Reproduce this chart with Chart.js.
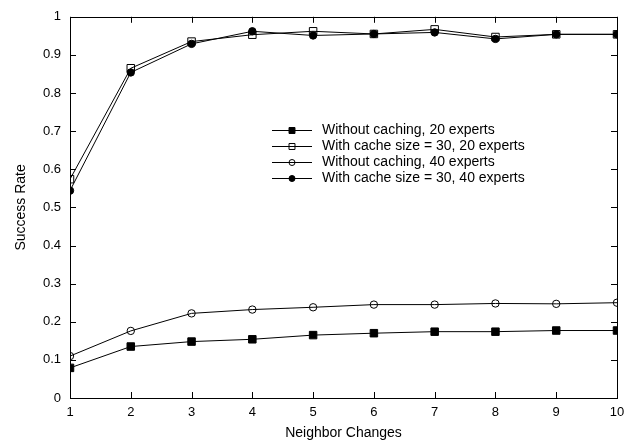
<!DOCTYPE html>
<html>
<head>
<meta charset="utf-8">
<script src="https://cdn.jsdelivr.net/npm/chart.js@4/dist/chart.umd.min.js"></script>
<style>
  html, body { margin: 0; padding: 0; background: #fff; }
  canvas { display: block; }
</style>
</head>
<body>
<canvas id="chart" width="639" height="446"></canvas>
<script>
// Neighbor changes on the x axis
const neighborChanges = [1, 2, 3, 4, 5, 6, 7, 8, 9, 10];

// Success rate per series
const noCache20 = [0.079, 0.135, 0.148, 0.154, 0.165, 0.170, 0.174, 0.174, 0.177, 0.177];
const cache30_20 = [0.574, 0.865, 0.935, 0.953, 0.962, 0.955, 0.967, 0.947, 0.954, 0.954];
const noCache40 = [0.110, 0.176, 0.222, 0.232, 0.238, 0.245, 0.245, 0.248, 0.247, 0.250];
const cache30_40 = [0.544, 0.854, 0.929, 0.962, 0.951, 0.955, 0.959, 0.942, 0.954, 0.954];

const seriesLabels = [
    'Without caching, 20 experts',
    'With cache size = 30, 20 experts',
    'Without caching, 40 experts',
    'With cache size = 30, 40 experts'
];

const yTicks = [0, 0.1, 0.2, 0.3, 0.4, 0.5, 0.6, 0.7, 0.8, 0.9, 1];

const FONT = "'Liberation Sans', Arial, sans-serif";
const CLEAR = 'rgba(255,255,255,0)';

function toPoints(values) {
    return neighborChanges.map((x, i) => ({ x: x, y: values[i] }));
}

function series(label, values, style, filled, radius) {
    return {
        label: label,
        data: toPoints(values),
        borderColor: '#000',
        borderWidth: 1,
        pointStyle: style,
        pointRadius: radius,
        pointHoverRadius: radius,
        pointBorderColor: '#000',
        pointBorderWidth: 1,
        pointBackgroundColor: filled ? '#000' : CLEAR,
        fill: false,
        tension: 0
    };
}

// Frame with inward ticks on all four sides (gnuplot style)
const framePlugin = {
    id: 'frame',
    afterDatasetsDraw(chart) {
        const { ctx, chartArea: a, scales } = chart;
        const len = 6;
        ctx.save();
        ctx.strokeStyle = '#000';
        ctx.lineWidth = 1;
        ctx.beginPath();
        scales.x.ticks.forEach(t => {
            const px = Math.round(scales.x.getPixelForValue(t.value)) + 0.5;
            ctx.moveTo(px, a.bottom); ctx.lineTo(px, a.bottom - len);
            ctx.moveTo(px, a.top); ctx.lineTo(px, a.top + len);
        });
        scales.y.ticks.forEach(t => {
            const py = Math.round(scales.y.getPixelForValue(t.value)) + 0.5;
            ctx.moveTo(a.left, py); ctx.lineTo(a.left + len, py);
            ctx.moveTo(a.right, py); ctx.lineTo(a.right - len, py);
        });
        ctx.stroke();
        ctx.strokeRect(Math.round(a.left) + 0.5, Math.round(a.top) + 0.5,
            Math.round(a.right - a.left), Math.round(a.bottom - a.top));
        ctx.restore();
    }
};

// Legend drawn inside the plot area
const legendPlugin = {
    id: 'innerLegend',
    afterDraw(chart) {
        const { ctx, chartArea: a } = chart;
        const x0 = a.left + 202;
        const lineLen = 40;
        const y0 = a.top + 113;
        const rowH = 16;
        ctx.save();
        ctx.font = '14px ' + FONT;
        ctx.textBaseline = 'middle';
        chart.data.datasets.forEach((ds, i) => {
            const y = Math.round(y0 + i * rowH) + 0.5;
            ctx.strokeStyle = '#000';
            ctx.lineWidth = 1;
            ctx.beginPath();
            ctx.moveTo(x0, y);
            ctx.lineTo(x0 + lineLen, y);
            ctx.stroke();
            const r = ds.pointStyle === 'rect' ? 4.2 : 3;
            ctx.fillStyle = ds.pointBackgroundColor;
            ctx.strokeStyle = '#000';
            Chart.helpers.drawPoint(ctx, {
                pointStyle: ds.pointStyle,
                radius: r,
                borderWidth: 1
            }, x0 + lineLen / 2, y);
            ctx.fillStyle = '#000';
            ctx.fillText(ds.label, x0 + lineLen + 10, y);
        });
        ctx.restore();
    }
};

new Chart(document.getElementById('chart'), {
    type: 'line',
    data: {
        datasets: [
            series(seriesLabels[0], noCache20, 'rect', true, 5.3),
            series(seriesLabels[1], cache30_20, 'rect', false, 5.3),
            series(seriesLabels[2], noCache40, 'circle', false, 3.7),
            series(seriesLabels[3], cache30_40, 'circle', true, 3.7)
        ]
    },
    options: {
        responsive: false,
        animation: false,
        layout: { padding: { top: 14, right: 22, bottom: 0, left: 0 } },
        plugins: {
            legend: { display: false },
            tooltip: { enabled: false }
        },
        scales: {
            x: {
                type: 'linear',
                min: 1,
                max: 10,
                grid: { display: false, drawTicks: false },
                border: { display: false },
                ticks: {
                    stepSize: 1,
                    padding: 7,
                    color: '#000',
                    font: { family: FONT, size: 13 },
                    maxRotation: 0
                },
                title: {
                    display: true,
                    text: 'Neighbor Changes',
                    color: '#000',
                    font: { family: FONT, size: 14 },
                    padding: { top: 0, bottom: 4 }
                },
                afterFit(scale) { scale.height = 48; }
            },
            y: {
                min: 0,
                max: 1,
                afterBuildTicks(scale) {
                    scale.ticks = yTicks.map(v => ({ value: v }));
                },
                grid: { display: false, drawTicks: false },
                border: { display: false },
                ticks: {
                    padding: 9,
                    color: '#000',
                    font: { family: FONT, size: 13 },
                    callback: v => String(Math.round(v * 10) / 10)
                },
                title: {
                    display: true,
                    text: 'Success Rate',
                    color: '#000',
                    font: { family: FONT, size: 14 },
                    padding: { top: 13, bottom: 0 }
                },
                afterFit(scale) { scale.width = 70; }
            }
        }
    },
    plugins: [framePlugin, legendPlugin]
});
</script>
</body>
</html>
